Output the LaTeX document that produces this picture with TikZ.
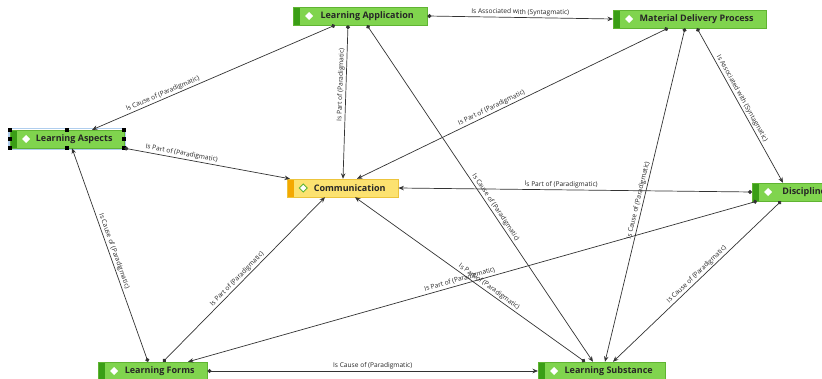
\documentclass[tikz,border=0pt]{standalone}
\usepackage{fontspec}
\setmainfont{Open Sans}
\usetikzlibrary{arrows.meta,calc}

\definecolor{cfill}{RGB}{128,212,78}
\definecolor{cedge}{RGB}{96,180,50}
\definecolor{cstrip}{RGB}{58,158,22}
\definecolor{yfill}{RGB}{252,226,112}
\definecolor{yedge}{RGB}{236,196,60}
\definecolor{ystrip}{RGB}{244,168,0}
\definecolor{selblue}{RGB}{176,206,238}

\tikzset{
  concept/.style={draw=cedge, fill=cfill, anchor=west, minimum height=18pt,
    inner xsep=4pt, inner ysep=0pt, text=black!85,
    font=\bfseries\fontsize{9}{10}\selectfont,
    execute at begin node=\hspace*{14pt},
    path picture={
      \fill[cstrip] (path picture bounding box.south west) rectangle ([xshift=7pt]path picture bounding box.north west);
      \fill[white] ([xshift=16pt]path picture bounding box.west) +(0,4pt) -- +(4pt,0) -- +(0,-4pt) -- +(-4pt,0) -- cycle;}},
  central/.style={concept, draw=yedge, fill=yfill,
    path picture={
      \fill[ystrip] (path picture bounding box.south west) rectangle ([xshift=7pt]path picture bounding box.north west);
      \filldraw[fill=white, draw=cedge, line width=0.8pt] ([xshift=16pt]path picture bounding box.west) +(0,4pt) -- +(4pt,0) -- +(0,-4pt) -- +(-4pt,0) -- cycle;}},
  rel/.style={draw=black!80, line width=0.7pt, {Circle[length=4pt]}-{Stealth[length=5.5pt,width=4.5pt]}},
  lbl/.style={font=\fontsize{6.6}{7}\selectfont, sloped, above, inner sep=1.5pt, text=black!85}
}

\begin{document}
\begin{tikzpicture}[x=1pt,y=-1pt]
  \useasboundingbox (0,0) rectangle (822,379);

  % concepts
  \node[concept, minimum width=114pt] (lasp) at (10,139) {Learning Aspects};
  \node[concept, minimum width=134pt] (lapp) at (293,16) {Learning Application};
  \node[concept, minimum width=153pt] (mdp) at (613,19) {Material Delivery Process};
  \node[central, minimum width=111pt] (comm) at (287,188) {Communication};
  \node[concept, minimum width=90pt] (disc) at (752,192) {Discipline};
  \node[concept, minimum width=109pt] (lf) at (98,371) {Learning Forms};
  \node[concept, minimum width=127pt] (ls) at (538,371) {Learning Substance};

  % selection of Learning Aspects
  \draw[selblue, line width=1.2pt] ($(lasp.south west)+(-1pt,-1pt)$) rectangle ($(lasp.north east)+(1pt,1pt)$);
  \foreach \a in {north west,north,north east,east,south east,south,south west,west}
    \fill[black] ($(lasp.\a)+(-2pt,-2pt)$) rectangle ++(4pt,4pt);

  % relations
  \draw[rel] ([xshift=42pt]lapp.south west) -- node[lbl,pos=.7]{Is Cause of (Paradigmatic)} ([xshift=82pt]lasp.north west);
  \draw[rel] (lasp.south east) -- node[lbl,pos=.34]{Is Part of (Paradigmatic)} ([xshift=3pt]comm.north west);
  \draw[rel] ([xshift=55pt]lapp.south west) -- node[lbl,pos=.39]{Is Part of (Paradigmatic)} ([xshift=56pt]comm.north west);
  \draw[rel] ([xshift=74pt]lapp.south west) -- node[lbl,pos=.55]{Is Cause of (Paradigmatic)} ([xshift=55pt]ls.north west);
  \draw[rel] (lapp.east) -- node[lbl]{Is Associated with (Syntagmatic)} (mdp.west);
  \draw[rel] ([xshift=55pt]mdp.south west) -- node[lbl,pos=.56]{Is Part of (Paradigmatic)} ([xshift=70pt]comm.north west);
  \draw[rel] ([xshift=72pt]mdp.south west) -- node[lbl,pos=.52]{Is Cause of (Paradigmatic)} ([xshift=67pt]ls.north west);
  \draw[rel] ([xshift=84pt]mdp.south west) -- node[lbl,pos=.47]{Is Associated with (Syntagmatic)} ([xshift=31pt]disc.north west);
  \draw[rel] (disc.west) -- node[lbl,pos=.54]{Is Part of (Paradigmatic)} (comm.east);
  \draw[rel] ([xshift=5pt]disc.south west) -- node[lbl,pos=.52]{Is Part of (Paradigmatic)} ([xshift=90pt]lf.north west);
  \draw[rel] ([xshift=50pt]lf.north west) -- node[lbl,pos=.51]{Is Cause of (Paradigmatic)} ([xshift=62pt]lasp.south west);
  \draw[rel] ([xshift=65pt]lf.north west) -- node[lbl,pos=.48]{Is Part of (Paradigmatic)} ([xshift=38pt]comm.south west);
  \draw[rel] (lf.east) -- node[lbl]{Is Cause of (Paradigmatic)} (ls.west);
  \draw[rel] ([xshift=47pt]ls.north west) -- node[lbl,pos=.43]{Is Part of (Paradigmatic)} ([xshift=68pt]comm.south west);
  \draw[rel] ([xshift=29pt]disc.south west) -- node[lbl,pos=.48]{Is Cause of (Paradigmatic)} ([xshift=75pt]ls.north west);
\end{tikzpicture}
\end{document}
